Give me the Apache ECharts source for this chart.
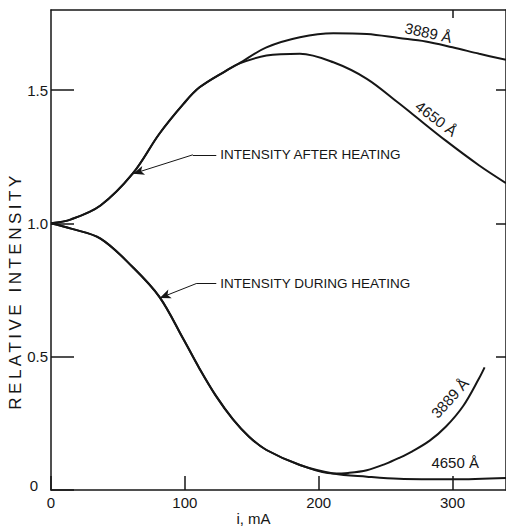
<!DOCTYPE html>
<html>
<head>
	<meta charset="utf-8">
	<title>Relative intensity vs current</title>
	<script src="https://cdn.jsdelivr.net/npm/echarts@6/dist/echarts.min.js"></script>
	<style>
		html, body { margin: 0; padding: 0; background: #fff; }
	</style>
</head>
<body>
<div id="main" style="width: 506px;height:527px;"></div>
<script>
	// tick labels
	var xTicks = [0, 100, 200, 300];
	var yTicks = [0, 0.5, 1.0, 1.5];
	var xTopTicks = [300];

	// intensity after heating (i in mA, relative intensity)
	var afterShared = [[0, 1.0], [15, 1.015], [37, 1.067], [61, 1.186], [81, 1.336], [99, 1.448], [111, 1.51], [131, 1.573], [140, 1.598]];
	var after3889 = [[161, 1.66], [186, 1.698], [211, 1.713], [236, 1.71], [260, 1.695], [280, 1.682], [300, 1.66], [320, 1.636], [340, 1.613]];
	var after4650 = [[161, 1.629], [186, 1.636], [211, 1.604], [236, 1.542], [260, 1.45], [270, 1.41], [295, 1.31], [320, 1.217], [340, 1.151]];

	// intensity during heating
	var duringShared = [[0, 1.0], [15, 0.98], [37, 0.943], [61, 0.836], [81, 0.724], [99, 0.565], [111, 0.455], [123, 0.355], [136, 0.265], [148, 0.2], [161, 0.15], [186, 0.094], [211, 0.062]];
	var during3889 = [[222, 0.064], [236, 0.074], [250, 0.098], [260, 0.12], [270, 0.145], [283, 0.185], [295, 0.237], [308, 0.315], [320, 0.42], [324, 0.46]];
	var during4650 = [[236, 0.05], [260, 0.042], [300, 0.04], [340, 0.045]];

	var ink = '#161616';
	var font = 'Liberation Sans';

	function curve(name, data) {
		return {
			name: name,
			type: 'line',
			data: data,
			smooth: 0.35,
			showSymbol: false,
			silent: true,
			lineStyle: {color: ink, width: 2}
		};
	}

	var chart = echarts.init(document.getElementById('main'), null, {renderer: 'svg'});

	var series = [
		curve('after 3889', afterShared.concat(after3889)),
		curve('after 4650', afterShared.concat(after4650)),
		curve('during 3889', duringShared.concat(during3889)),
		curve('during 4650', duringShared.concat(during4650))
	];

	// leader lines + text labels
	var noteLabel = {show: true, position: 'end', distance: 4, color: ink, fontSize: 13.5, fontFamily: font};
	series[3].markLine = {
		silent: true,
		animation: false,
		symbol: ['none', 'none'],
		lineStyle: {color: ink, width: 1, type: 'solid'},
		label: {show: false},
		data: [
			[{coord: [106, 1.257]}, {coord: [123.5, 1.257], label: Object.assign({formatter: 'INTENSITY AFTER HEATING'}, noteLabel)}],
			[{coord: [106, 1.257]}, {coord: [61.4, 1.186], symbol: 'arrow', symbolSize: [7, 11]}],
			[{coord: [108.5, 0.774]}, {coord: [123.5, 0.774], label: Object.assign({formatter: 'INTENSITY DURING HEATING'}, noteLabel)}],
			[{coord: [108.5, 0.774]}, {coord: [81.3, 0.72], symbol: 'arrow', symbolSize: [7, 11]}]
		]
	};
	series[3].markPoint = {
		silent: true,
		animation: false,
		symbol: 'circle',
		symbolSize: 1,
		itemStyle: {color: 'rgba(0,0,0,0)'},
		label: {show: true, position: 'inside', color: ink, fontSize: 15, fontFamily: font, formatter: '{b}'},
		data: [
			{name: '3889 Å', coord: [282, 1.715], label: {rotate: -12}},
			{name: '4650 Å', coord: [288, 1.393], label: {rotate: -37}},
			{name: '3889 Å', coord: [298, 0.345], label: {rotate: 48}},
			{name: '4650 Å', coord: [302, 0.105]}
		]
	};

	var option = {
		animation: false,
		backgroundColor: '#fff',
		grid: {left: 51, right: 0, top: 10, bottom: 37, containLabel: false, outerBoundsMode: 'none'},
		xAxis: [{
			type: 'value',
			min: 0,
			max: 340,
			name: 'i, mA',
			nameLocation: 'middle',
			nameGap: 21,
			nameMoveOverlap: false,
			nameTextStyle: {color: ink, fontSize: 15, fontFamily: font, padding: [0, 50, 0, 0]},
			axisLine: {show: true, onZero: false, lineStyle: {color: ink, width: 1.5}},
			axisTick: {show: true, inside: true, length: 14, customValues: xTicks, lineStyle: {color: ink, width: 1.5}},
			axisLabel: {customValues: xTicks, margin: 5, color: ink, fontSize: 15, fontFamily: font},
			splitLine: {show: false}
		}, {
			type: 'value',
			position: 'top',
			min: 0,
			max: 340,
			axisLine: {show: true, onZero: false, lineStyle: {color: ink, width: 1.5}},
			axisTick: {show: true, inside: true, length: 8, customValues: xTopTicks, lineStyle: {color: ink, width: 1.5}},
			axisLabel: {show: false},
			splitLine: {show: false}
		}],
		yAxis: [{
			type: 'value',
			min: 0,
			max: 1.8,
			name: 'RELATIVE INTENSITY',
			nameLocation: 'middle',
			nameGap: 27,
			nameMoveOverlap: false,
			nameTextStyle: {color: ink, fontSize: 17, fontFamily: font, padding: [0, 82, 0, 0]},
			axisLine: {show: true, onZero: false, lineStyle: {color: ink, width: 1.5}},
			axisTick: {show: true, inside: true, length: 23, customValues: yTicks, lineStyle: {color: ink, width: 1.5}},
			axisLabel: {
				customValues: yTicks,
				margin: 3,
				color: ink,
				fontSize: 15,
				fontFamily: font,
				formatter: function (v) {
					return v === 0 ? '{z|0}' : v.toFixed(1);
				},
				rich: {z: {fontSize: 15, fontFamily: font, color: ink, padding: [0, 10, 10, 0]}}
			},
			splitLine: {show: false}
		}, {
			type: 'value',
			position: 'right',
			min: 0,
			max: 1.8,
			axisLine: {show: true, onZero: false, lineStyle: {color: ink, width: 1.5}},
			axisTick: {show: true, inside: true, length: 10, customValues: [0.5, 1.0, 1.5], lineStyle: {color: ink, width: 1.5}},
			axisLabel: {show: false},
			splitLine: {show: false}
		}],
		series: series
	};

	chart.setOption(option);

	// the original lettering is widely spaced; stretch the axis title a bit
	function spaceTitle() {
		var texts = document.querySelectorAll('#main text');
		for (var i = 0; i < texts.length; i++) {
			if (texts[i].textContent === 'RELATIVE INTENSITY') {
				texts[i].style.letterSpacing = '3.5px';
			}
		}
	}
	spaceTitle();
	chart.on('finished', spaceTitle);
</script>
</body>
</html>
